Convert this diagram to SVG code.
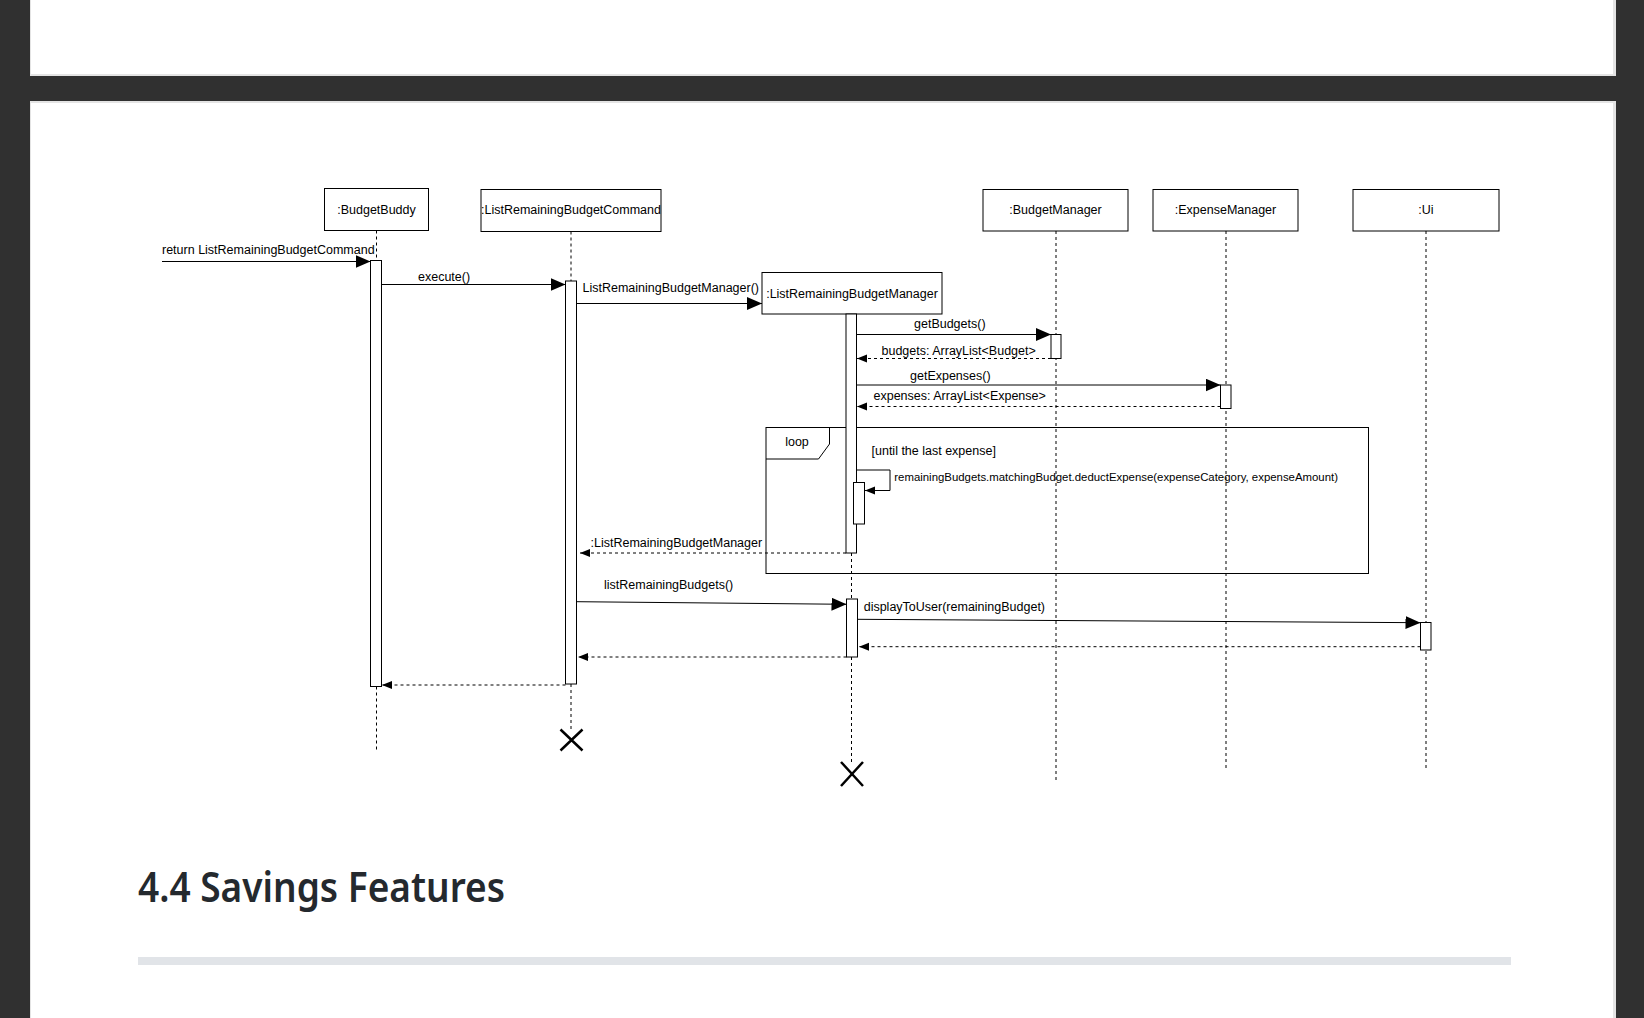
<svg xmlns="http://www.w3.org/2000/svg" width="1644" height="1018" viewBox="0 0 1644 1018">
<style>
.t{font-family:"Liberation Sans",Arial,sans-serif;font-size:12.5px;fill:#000}
.s{font-size:11.4px}
.c{text-anchor:middle}
.box{fill:#fff;stroke:#000;stroke-width:1}
.act{fill:#fff;stroke:#000;stroke-width:1}
.life{stroke:#000;stroke-width:1;stroke-dasharray:3 3;fill:none}
.msg{stroke:#000;stroke-width:1;fill:none;marker-end:url(#blk)}
.ret{stroke:#000;stroke-width:1;fill:none;stroke-dasharray:3 3;marker-end:url(#sml)}
.x{stroke:#000;stroke-width:2.5;fill:none}
</style>
<defs>
<marker id="blk" markerUnits="userSpaceOnUse" markerWidth="16" markerHeight="14" refX="15" refY="6.5" orient="auto"><path d="M0,0 L15,6.5 L0,13 z" fill="#000"/></marker>
<marker id="sml" markerUnits="userSpaceOnUse" markerWidth="11" markerHeight="9" refX="10" refY="4" orient="auto"><path d="M0,0 L10,4 L0,8 z" fill="#000"/></marker>
</defs>
<rect x="0" y="0" width="1644" height="1018" fill="#303030"/>
<rect x="30" y="-2" width="1586" height="78" fill="#e4e4e4"/>
<rect x="31" y="-2" width="1582" height="76" fill="#fff"/>
<rect x="30" y="101" width="1586" height="920" fill="#e4e4e4"/>
<rect x="31" y="103" width="1582" height="920" fill="#fff"/>

<g id="lifelines">
<line class="life" x1="376.5" y1="230.5" x2="376.5" y2="260.5"/>
<line class="life" x1="376.5" y1="686.5" x2="376.5" y2="750"/>
<line class="life" x1="571" y1="231.5" x2="571" y2="281"/>
<line class="life" x1="571" y1="684" x2="571" y2="730"/>
<line class="life" x1="851.5" y1="553" x2="851.5" y2="599"/>
<line class="life" x1="851.5" y1="657" x2="851.5" y2="763"/>
<line class="life" x1="1056" y1="231" x2="1056" y2="781"/>
<line class="life" x1="1226" y1="231" x2="1226" y2="770"/>
<line class="life" x1="1426" y1="231" x2="1426" y2="770"/>
</g>

<g id="loop">
<rect x="766" y="427.5" width="602.5" height="146" fill="none" stroke="#000" stroke-width="1"/>
<path d="M766,459 L818.5,459 L829.5,444 L829.5,427.5" fill="none" stroke="#000" stroke-width="1"/>
<text class="t c" x="797" y="446">loop</text>
<text class="t" x="871.5" y="455">[until the last expense]</text>
</g>

<g id="BudgetBuddy">
<rect class="box" x="324.5" y="188.5" width="104" height="42"/>
<text class="t c" x="376.5" y="213.5">:BudgetBuddy</text>
<rect class="act" x="370.5" y="260.5" width="11" height="426"/>
</g>

<g id="ListRemainingBudgetCommand">
<rect class="box" x="481" y="189.5" width="180" height="42"/>
<text class="t c" x="571" y="214">:ListRemainingBudgetCommand</text>
<rect class="act" x="565.5" y="281" width="11" height="403"/>
<path class="x" d="M560.5,729.5 L582.5,750.5 M582.5,729.5 L560.5,750.5"/>
</g>

<g id="ListRemainingBudgetManager">
<rect class="box" x="762" y="272.5" width="180" height="41.5"/>
<text class="t c" x="852" y="297.5">:ListRemainingBudgetManager</text>
<rect class="act" x="846" y="314" width="10.5" height="239"/>
<rect class="act" x="853.5" y="482.5" width="11" height="41.5"/>
<rect class="act" x="846.5" y="599" width="11" height="58" stroke="#666"/>
<path class="x" d="M841,762 L863,786 M863,762 L841,786"/>
</g>

<g id="BudgetManager">
<rect class="box" x="983" y="189.5" width="145" height="41.5"/>
<text class="t c" x="1055.5" y="214">:BudgetManager</text>
<rect class="act" x="1051" y="334.5" width="10" height="24"/>
</g>

<g id="ExpenseManager">
<rect class="box" x="1153" y="189.5" width="145" height="41.5"/>
<text class="t c" x="1225.5" y="214">:ExpenseManager</text>
<rect class="act" x="1220.5" y="385" width="10.5" height="23.5"/>
</g>

<g id="Ui">
<rect class="box" x="1353" y="189.5" width="146" height="41.5"/>
<text class="t c" x="1426" y="214">:Ui</text>
<rect class="act" x="1420.5" y="622.5" width="10.5" height="27.5"/>
</g>

<g id="connectors">
<line class="msg" x1="162" y1="261.5" x2="370.5" y2="261.5"/>
<text class="t" x="162" y="254">return ListRemainingBudgetCommand</text>
<line class="msg" x1="381.5" y1="284.5" x2="565.5" y2="284.5"/>
<text class="t" x="418" y="280.5">execute()</text>
<line class="msg" x1="576.5" y1="303.5" x2="762" y2="303.5"/>
<text class="t" x="582.5" y="291.5">ListRemainingBudgetManager()</text>
<line class="msg" x1="856.5" y1="334.5" x2="1051" y2="334.5"/>
<text class="t" x="914" y="328">getBudgets()</text>
<line class="ret" x1="1051" y1="358.5" x2="857" y2="358.5"/>
<text class="t" x="881.5" y="355">budgets: ArrayList&lt;Budget&gt;</text>
<line class="msg" x1="856.5" y1="385" x2="1220.5" y2="385"/>
<text class="t" x="910" y="380">getExpenses()</text>
<line class="ret" x1="1220.5" y1="406.5" x2="857" y2="406.5"/>
<text class="t" x="873.5" y="400">expenses: ArrayList&lt;Expense&gt;</text>
<path class="ret" style="stroke-dasharray:none" d="M856.5,470 H890 V490.5 H865"/>
<text class="t s" x="894.3" y="481">remainingBudgets.matchingBudget.deductExpense(expenseCategory, expenseAmount)</text>
<line class="ret" x1="846" y1="553" x2="580" y2="553"/>
<text class="t" x="590.5" y="546.5">:ListRemainingBudgetManager</text>
<line class="msg" x1="576.5" y1="601.7" x2="846.5" y2="604.3"/>
<text class="t" x="604" y="589.3">listRemainingBudgets()</text>
<line class="msg" x1="857.5" y1="619.3" x2="1420.5" y2="622.7"/>
<text class="t" x="863.7" y="610.7">displayToUser(remainingBudget)</text>
<line class="ret" x1="1420.5" y1="646.7" x2="859" y2="646.7"/>
<line class="ret" x1="846.5" y1="657" x2="578" y2="657"/>
<line class="ret" x1="565.5" y1="685" x2="382" y2="685"/>
</g>

<text x="138" y="901.7" font-family="'Noto Sans','Open Sans',sans-serif" font-weight="600" font-size="41" textLength="367" lengthAdjust="spacingAndGlyphs" fill="#24292e">4.4 Savings Features</text>
<rect x="138" y="957" width="1373" height="8" fill="#e1e4e8"/>
</svg>
